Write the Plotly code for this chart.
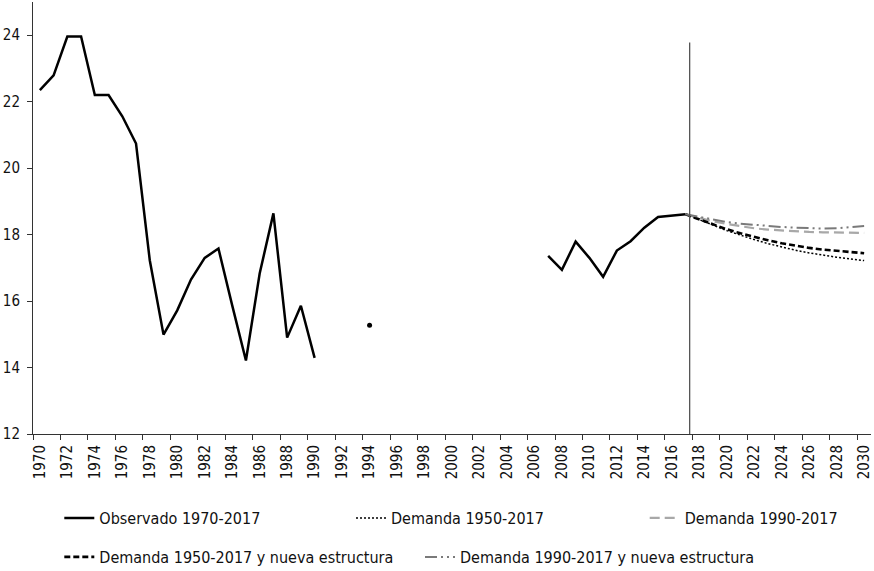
import plotly.graph_objects as go

FONT = "DejaVu Sans Condensed, Liberation Sans Narrow, DejaVu Sans, sans-serif"

# ---- data ----
obs_years = list(range(1970, 2018))
observado = [
    22.35, 22.79, 23.96, 23.96, 22.20, 22.20, 21.56, 20.74, 17.23, 14.99,   # 1970-1979
    15.72, 16.65, 17.30, 17.58, 15.87, 14.21, 16.83, 18.64, 14.90, 15.86,   # 1980-1989
    14.29, None, None, None, 15.27, None, None, None, None, None,          # 1990-1999
    None, None, None, None, None, None, None, 17.36, 16.94, 17.79,          # 2000-2009
    17.30, 16.73, 17.52, 17.80, 18.21, 18.53, 18.57, 18.61                  # 2010-2017
]

proj_years = list(range(2017, 2031))
dem_1950 = [18.61, 18.46, 18.29, 18.12, 17.98, 17.85, 17.73, 17.62, 17.53, 17.45, 17.38, 17.32, 17.27, 17.22]
dem_1990 = [18.61, 18.50, 18.40, 18.32, 18.25, 18.19, 18.15, 18.12, 18.10, 18.08, 18.07, 18.06, 18.05, 18.05]
dem_1950_ne = [18.61, 18.46, 18.31, 18.16, 18.04, 17.93, 17.83, 17.74, 17.66, 17.60, 17.55, 17.51, 17.48, 17.44]
dem_1990_ne = [18.61, 18.53, 18.45, 18.38, 18.33, 18.29, 18.26, 18.23, 18.21, 18.19, 18.18, 18.19, 18.22, 18.26]

tick_years = list(range(1970, 2031, 2))
y_ticks = [12, 14, 16, 18, 20, 22, 24]
split_year = 2017.3

# isolated observed points (no neighbours) shown as dots
iso_x, iso_y = [], []
for i, v in enumerate(observado):
    prev_ = observado[i - 1] if i > 0 else None
    next_ = observado[i + 1] if i < len(observado) - 1 else None
    if v is not None and prev_ is None and next_ is None:
        iso_x.append(obs_years[i]); iso_y.append(v)

fig = go.Figure()

fig.add_trace(go.Scatter(x=obs_years, y=observado, mode="lines", name="Observado 1970-2017",
                         line=dict(color="black", width=2.5), legend="legend"))
fig.add_trace(go.Scatter(x=iso_x, y=iso_y, mode="markers", showlegend=False,
                         marker=dict(color="black", size=5)))
fig.add_trace(go.Scatter(x=proj_years, y=dem_1950, mode="lines", name="Demanda 1950-2017",
                         line=dict(color="black", width=1.5, dash="2px,2px"), legend="legend2"))
fig.add_trace(go.Scatter(x=proj_years, y=dem_1990, mode="lines", name="Demanda 1990-2017",
                         line=dict(color="#a8a8a8", width=2.2, dash="10px,5px"), legend="legend3"))
fig.add_trace(go.Scatter(x=proj_years, y=dem_1950_ne, mode="lines", name="Demanda 1950-2017 y nueva estructura",
                         line=dict(color="black", width=2.6, dash="6px,3px"), legend="legend4"))
fig.add_trace(go.Scatter(x=proj_years, y=dem_1990_ne, mode="lines", name="Demanda 1990-2017 y nueva estructura",
                         line=dict(color="#7a7a7a", width=2, dash="12px,4px,2px,4px,2px,4px"), legend="legend5"))

fig.add_shape(type="line", xref="x", yref="y", x0=split_year, x1=split_year, y0=12, y1=23.78,
              line=dict(color="#555555", width=1.3))

W, H = 874, 571
ml, mr, mt, mb = 33, 3, 2, 137
pw = W - ml - mr
ph = H - mt - mb

def px_x(px):
    return (px - ml) / pw

def px_y(py):
    return (H - mb - py) / ph

leg_font = dict(family=FONT, size=16, color="#111111")
def leg(xpx, ypx):
    return dict(x=px_x(xpx), y=px_y(ypx), xanchor="left", yanchor="middle", orientation="h",
                font=leg_font, bgcolor="rgba(0,0,0,0)", borderwidth=0, tracegroupgap=0,
                itemwidth=30)

fig.update_layout(
    width=W, height=H,
    margin=dict(l=ml, r=mr, t=mt, b=mb, autoexpand=False),
    paper_bgcolor="white", plot_bgcolor="white",
    font=dict(family=FONT, color="#111111"),
    legend=leg(99.3 - 40, 518),
    legend2=leg(391 - 40, 518),
    legend3=leg(684.7 - 40, 518),
    legend4=leg(99.3 - 40, 557),
    legend5=leg(460 - 40, 557),
    xaxis=dict(range=[1969.5, 2030.5], tickmode="array", tickvals=tick_years,
               ticktext=[str(t) for t in tick_years], tickangle=-90,
               tickfont=dict(family=FONT, size=15, color="#111111"),
               ticks="", showgrid=False, zeroline=False, automargin=False,
               showline=True, linecolor="#333333", linewidth=1,
               ticklabelstandoff=4,
               minor=dict(ticks="outside", tick0=1969.5, dtick=2, ticklen=5,
                          tickcolor="#333333", showgrid=False)),
    yaxis=dict(range=[12, 25], tickmode="array", tickvals=y_ticks,
               tickfont=dict(family=FONT, size=15, color="#111111"),
               ticks="outside", ticklen=5, tickcolor="#333333",
               showgrid=False, zeroline=False, automargin=False,
               showline=True, linecolor="#333333", linewidth=1,
               ticklabelstandoff=4),
)

fig.write_html("out.html", config={"displayModeBar": False},
               post_script="document.body.style.margin='0';document.body.style.overflow='hidden';")
